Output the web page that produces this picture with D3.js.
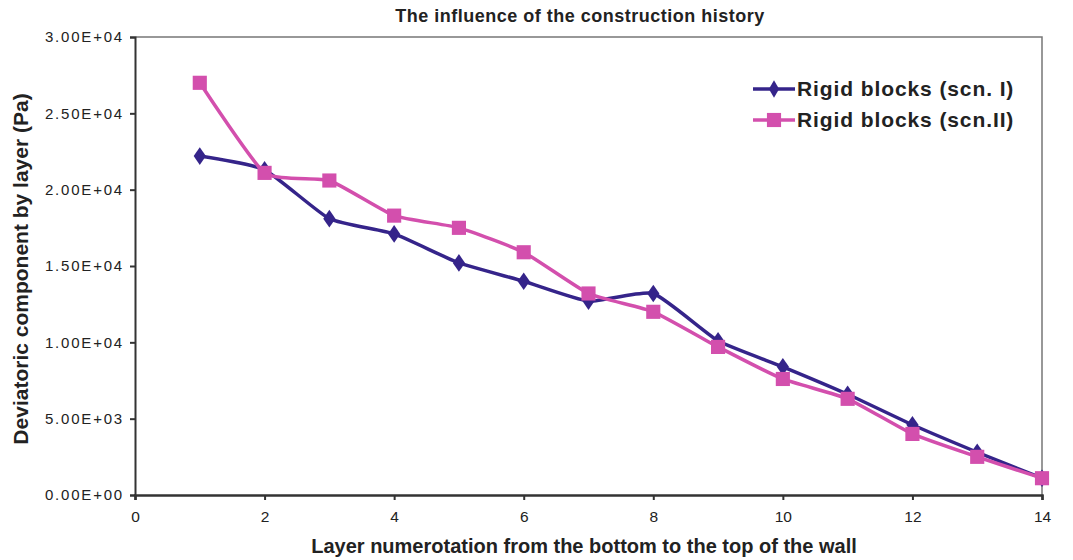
<!DOCTYPE html>
<html lang="en">
<head>
<meta charset="UTF-8">
<title>The influence of the construction history</title>
<style>
  body { margin: 0; background: #fff; font-family: 'Liberation Sans', Arial, sans-serif; }
  .tick text { font-family: 'Liberation Sans', Arial, sans-serif; fill: #222; }
  .axis path, .axis line { stroke: #333; }
</style>
<script src="https://d3js.org/d3.v7.min.js"></script>
</head>
<body>
<svg id="chart" width="1073" height="560"></svg>
<script>
// layer numbers
const layers = [1, 2, 3, 4, 5, 6, 7, 8, 9, 10, 11, 12, 13, 14];
// Rigid blocks (scn. I)
const scnI = [22200, 21300, 18100, 17100, 15200, 14000, 12700, 13200, 10100, 8400, 6600, 4600, 2800, 1100];
// Rigid blocks (scn.II)
const scnII = [27000, 21100, 20600, 18300, 17500, 15900, 13200, 12000, 9700, 7600, 6300, 4000, 2500, 1100];
const yTicks = [0, 5000, 10000, 15000, 20000, 25000, 30000];
const xTicks = [0, 2, 4, 6, 8, 10, 12, 14];

const svg = d3.select("#chart");
const margin = { left: 135, top: 37, right: 31, bottom: 65 };
const W = 1073, H = 560;

const x = d3.scaleLinear().domain([0, 14]).range([margin.left, W - margin.right]);
const y = d3.scaleLinear().domain([0, 30000]).range([H - margin.bottom, margin.top]);

// plot frame (top and right)
svg.append("path")
    .attr("d", `M${x(0)},${y(30000)} H${x(14)} V${y(0)}`)
    .attr("fill", "none")
    .attr("stroke", "#777")
    .attr("stroke-width", 1.5);

const fmt = v => {
    if (v === 0) return "0.00E+00";
    const e = Math.floor(Math.log10(v));
    const m = v / Math.pow(10, e);
    return m.toFixed(2) + "E+" + String(e).padStart(2, "0");
};

svg.append("g")
    .attr("class", "axis")
    .attr("transform", `translate(${x(0)},0)`)
    .call(d3.axisLeft(y).tickValues(yTicks).tickFormat(fmt).tickSize(5).tickPadding(6))
    .call(g => g.select(".domain").attr("stroke-width", 2))
    .call(g => g.selectAll(".tick line").attr("stroke-width", 2))
    .call(g => g.selectAll(".tick text").style("font-size", "15px").style("letter-spacing", "1.8px"));

svg.append("g")
    .attr("class", "axis")
    .attr("transform", `translate(0,${y(0)})`)
    .call(d3.axisBottom(x).tickValues(xTicks).tickFormat(d3.format("d")).tickSize(5).tickPadding(11))
    .call(g => g.select(".domain").attr("stroke-width", 2.5))
    .call(g => g.selectAll(".tick line").attr("stroke-width", 2))
    .call(g => g.selectAll(".tick text").style("font-size", "15.5px"));

const line = d3.line()
    .x((d, i) => x(layers[i]))
    .y(d => y(d))
    .curve(d3.curveCardinal.tension(0.5));

const blue = "#35248a", pink = "#d34fad";

svg.append("path").datum(scnI)
    .attr("d", line).attr("fill", "none")
    .attr("stroke", blue).attr("stroke-width", 3.5);
svg.append("path").datum(scnII)
    .attr("d", line).attr("fill", "none")
    .attr("stroke", pink).attr("stroke-width", 3.5);

const diamond = d3.symbol().type(d3.symbolDiamond).size(90);
const square = d3.symbol().type(d3.symbolSquare).size(200);

svg.append("g").selectAll("path").data(scnI).join("path")
    .attr("d", diamond)
    .attr("transform", (d, i) => `translate(${x(layers[i])},${y(d)}) scale(1.2,1)`)
    .attr("fill", blue);

svg.append("g").selectAll("path").data(scnII).join("path")
    .attr("d", square)
    .attr("transform", (d, i) => `translate(${x(layers[i])},${y(d)})`)
    .attr("fill", pink);

// title
svg.append("text")
    .attr("x", 580).attr("y", 22)
    .attr("text-anchor", "middle")
    .attr("font-size", 18).attr("font-weight", "bold").attr("fill", "#222")
    .attr("letter-spacing", 0.5)
    .text("The influence of the construction history");

// axis titles
svg.append("text")
    .attr("transform", `translate(28,${(y(0) + y(30000)) / 2 + 3}) rotate(-90)`)
    .attr("text-anchor", "middle")
    .attr("font-size", 21).attr("font-weight", "bold").attr("fill", "#222")
    .text("Deviatoric component by layer (Pa)");

svg.append("text")
    .attr("x", 584).attr("y", 553)
    .attr("text-anchor", "middle")
    .attr("font-size", 20).attr("font-weight", "bold").attr("fill", "#222")
    .text("Layer numerotation from the bottom to the top of the wall");

// legend
const legend = [
    { name: "Rigid blocks (scn. I)", color: blue, sym: diamond },
    { name: "Rigid blocks (scn.II)", color: pink, sym: square }
];
const lg = svg.append("g").attr("transform", "translate(753,89)");
legend.forEach((d, i) => {
    const g = lg.append("g").attr("transform", `translate(0,${i * 31})`);
    g.append("line").attr("x1", 0).attr("x2", 42).attr("y1", 0).attr("y2", 0)
        .attr("stroke", d.color).attr("stroke-width", 3.5);
    g.append("path").attr("d", d.sym).attr("fill", d.color)
        .attr("transform", `translate(21,0)`);
    g.append("text").attr("x", 44).attr("y", 7)
        .attr("font-size", 21).attr("font-weight", "bold").attr("fill", "#222")
        .attr("letter-spacing", 0.9)
        .text(d.name);
});
</script>
</body>
</html>
